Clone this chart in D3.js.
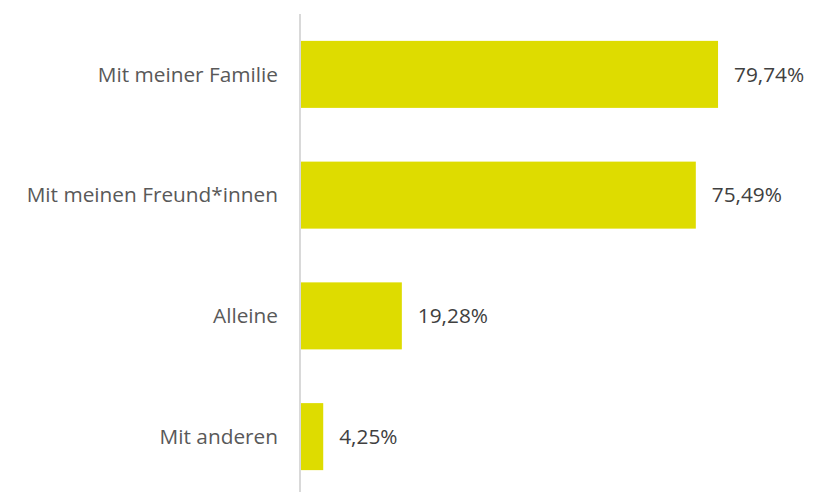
<!DOCTYPE html>
<html><head><meta charset="utf-8">
<script src="https://cdn.jsdelivr.net/npm/d3@7"></script>
<style>body{margin:0;background:#fff;}svg{display:block;}</style>
</head><body>
<svg id="c" width="823" height="492"></svg>
<script>
const categories = ["Mit meiner Familie", "Mit meinen Freund*innen", "Alleine", "Mit anderen"];
const values = [79.74, 75.49, 19.28, 4.25];
const labels = ["79,74%", "75,49%", "19,28%", "4,25%"];

const svg = d3.select("#c");
const font = "'Open Sans', sans-serif";
const x = d3.scaleLinear().domain([0, 100]).range([301, 824]);
const y = d3.scaleBand().domain(categories).range([14, 497]).paddingInner(0.445).paddingOuter(0.2225);

svg.selectAll("rect.bar").data(categories).join("rect")
  .attr("class", "bar")
  .attr("x", x(0))
  .attr("y", d => y(d))
  .attr("width", (d, i) => x(values[i]) - x(0))
  .attr("height", y.bandwidth())
  .attr("fill", "#dedc00");

svg.append("line").attr("x1", 300).attr("x2", 300).attr("y1", 14).attr("y2", 492)
  .attr("stroke", "#d9d9d9").attr("stroke-width", 2);

svg.selectAll("text.cat").data(categories).join("text")
  .attr("class", "cat")
  .attr("x", 278)
  .attr("y", d => y(d) + y.bandwidth() / 2)
  .attr("dy", "0.35em")
  .attr("text-anchor", "end")
  .attr("font-family", font).attr("font-size", 20.8).attr("fill", "#595959")
  .text(d => d);

svg.selectAll("text.val").data(categories).join("text")
  .attr("class", "val")
  .attr("x", (d, i) => x(values[i]) + 16)
  .attr("y", d => y(d) + y.bandwidth() / 2)
  .attr("dy", "0.35em")
  .attr("font-family", font).attr("font-size", 20.8).attr("fill", "#404040")
  .text((d, i) => labels[i]);
</script>
</body></html>
